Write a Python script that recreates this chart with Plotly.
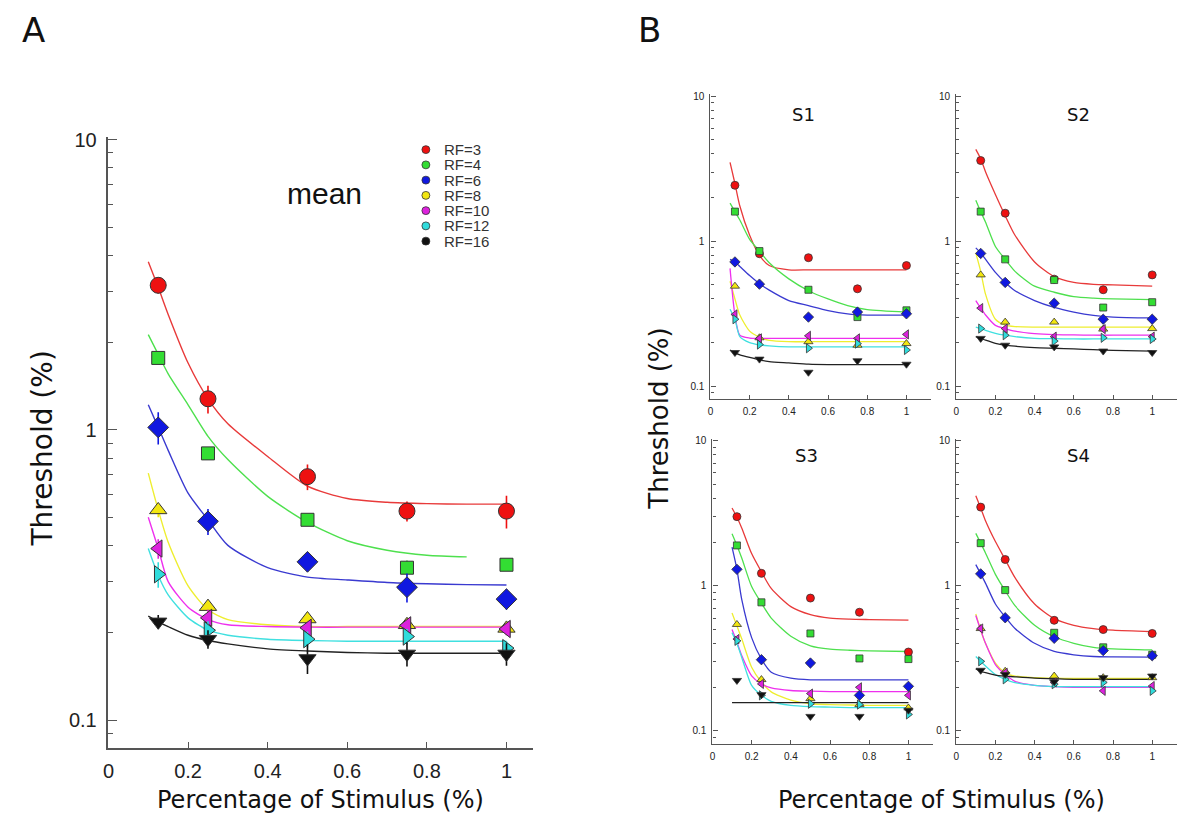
import plotly.graph_objects as go

W, H = 1193, 830

# ---------------- data ----------------
X_PTS = [0.125, 0.25, 0.5, 0.75, 1.0]
FIT_X_A = [0.1, 0.125, 0.15, 0.2, 0.25, 0.3, 0.4, 0.5, 0.6, 0.7, 0.8, 0.9, 1.0]
FIT_X_B = [0.1, 0.125, 0.15, 0.2, 0.25, 0.3, 0.4, 0.5, 0.6, 0.7, 0.8, 1.0]
RF_LABELS = ["RF=3", "RF=4", "RF=6", "RF=8", "RF=10", "RF=12", "RF=16"]

# Panel A (mean) thresholds
mean_rf3 = [3.15, 1.28, 0.69, 0.525, 0.525]
mean_rf4 = [1.77, 0.83, 0.49, 0.335, 0.343]
mean_rf6 = [1.02, 0.484, 0.351, 0.287, 0.261]
mean_rf8 = [0.53, 0.246, 0.223, 0.213, 0.207]
mean_rf10 = [0.39, 0.225, 0.208, 0.212, 0.206]
mean_rf12 = [0.318, 0.204, 0.19, 0.194, 0.177]
mean_rf16 = [0.218, 0.19, 0.163, 0.169, 0.169]

# Panel A error bars (+/-)
err_rf3 = [0.2, 0.14, 0.07, 0.042, 0.068]
err_rf4 = [0.05, 0.03, 0.02, 0.02, 0.015]
err_rf6 = [0.13, 0.05, 0.025, 0.033, 0.021]
err_rf8 = [0.03, 0.012, 0.01, 0.01, 0.01]
err_rf10 = [0.03, 0.015, 0.01, 0.01, 0.01]
err_rf12 = [0.032, 0.015, 0.012, 0.012, 0.01]
err_rf16 = [0.012, 0.014, 0.019, 0.016, 0.015]

# Panel A fitted curves (on FIT_X_A)
fit_rf3 = [3.8, 3.1, 2.5, 1.7, 1.28, 1.05, 0.81, 0.64, 0.58, 0.563, 0.557, 0.555, 0.555]
fit_rf4 = [2.13, 1.82, 1.56, 1.22, 0.95, 0.79, 0.59, 0.48, 0.415, 0.385, 0.37, 0.365, None]
fit_rf6 = [1.22, 1.02, 0.85, 0.605, 0.49, 0.40, 0.335, 0.311, 0.304, 0.298, 0.295, 0.293, 0.292]
fit_rf8 = [0.71, 0.53, 0.41, 0.29, 0.24, 0.222, 0.213, 0.21, 0.21, 0.21, 0.21, 0.21, 0.21]
fit_rf10 = [0.5, 0.39, 0.3, 0.245, 0.222, 0.213, 0.21, 0.209, 0.209, 0.209, 0.209, 0.209, 0.209]
fit_rf12 = [0.39, 0.315, 0.27, 0.225, 0.204, 0.196, 0.19, 0.188, 0.187, 0.187, 0.187, 0.187, 0.187]
fit_rf16 = [0.228, 0.218, 0.21, 0.196, 0.188, 0.183, 0.176, 0.173, 0.171, 0.17, 0.17, 0.17, 0.17]

# Panel B: per-subject points (rows = RF 3,4,6,8,10,12,16)
s1_points = [
    [2.43, 0.82, 0.77, 0.47, 0.68],
    [1.6, 0.855, 0.463, 0.30, 0.334],
    [0.72, 0.506, 0.30, 0.325, 0.316],
    [0.49, 0.216, 0.203, 0.192, 0.197],
    [0.313, 0.214, 0.223, 0.214, 0.228],
    [0.29, 0.194, 0.183, 0.197, 0.178],
    [0.171, 0.154, 0.125, 0.15, 0.142],
]
s2_points = [
    [3.6, 1.56, 0.548, 0.463, 0.586],
    [1.6, 0.75, 0.54, 0.349, 0.38],
    [0.824, 0.52, 0.374, 0.29, 0.29],
    [0.586, 0.277, 0.277, 0.248, 0.25],
    [0.346, 0.25, 0.22, 0.248, 0.22],
    [0.25, 0.225, 0.205, 0.216, 0.212],
    [0.214, 0.192, 0.187, 0.175, 0.171],
]
s3_points = [
    [3.0, 1.22, 0.824, 0.658, 0.35],
    [1.9, 0.77, 0.47, 0.316, 0.313],
    [1.3, 0.31, 0.294, 0.176, 0.203],
    [0.542, 0.226, 0.167, 0.152, 0.144],
    [0.43, 0.211, 0.181, 0.2, 0.176],
    [0.418, 0.176, 0.154, 0.152, 0.13],
    [0.223, 0.178, 0.126, 0.126, 0.139],
]
s4_points = [
    [3.49, 1.52, 0.579, 0.5, 0.47],
    [1.97, 0.935, 0.475, 0.377, 0.335],
    [1.21, 0.603, 0.435, 0.358, 0.33],
    [0.508, 0.258, 0.239, 0.233, 0.233],
    [0.508, 0.252, 0.216, 0.189, 0.204],
    [0.302, 0.227, 0.21, 0.216, 0.189],
    [0.262, 0.245, 0.218, 0.233, 0.239],
]

# Panel B: per-subject fitted curves (on FIT_X_B)
s1_fits = [
    [3.5, 2.5, 1.75, 1.1, 0.8, 0.68, 0.635, 0.635, 0.635, 0.635, 0.635, 0.635],
    [1.83, 1.6, 1.4, 1.03, 0.855, 0.71, 0.55, 0.456, 0.4, 0.36, 0.338, 0.325],
    [0.75, 0.72, 0.67, 0.58, 0.51, 0.46, 0.39, 0.36, 0.333, 0.316, 0.31, 0.31],
    [0.53, 0.4, 0.31, 0.24, 0.218, 0.207, 0.203, 0.203, 0.203, 0.203, 0.203, 0.203],
    [0.65, 0.31, 0.225, 0.215, 0.214, 0.214, 0.214, 0.214, 0.214, 0.214, 0.214, 0.214],
    [0.34, 0.29, 0.22, 0.2, 0.193, 0.19, 0.187, 0.187, 0.187, 0.187, 0.187, 0.187],
    [0.178, 0.17, 0.165, 0.158, 0.152, 0.148, 0.145, 0.142, 0.141, 0.141, 0.141, 0.141],
]
s2_fits = [
    [4.3, 3.7, 3.0, 2.1, 1.5, 1.1, 0.72, 0.57, 0.52, 0.505, 0.5, 0.49],
    [1.92, 1.6, 1.35, 0.92, 0.75, 0.62, 0.49, 0.445, 0.415, 0.405, 0.4, 0.396],
    [0.9, 0.83, 0.75, 0.61, 0.52, 0.456, 0.39, 0.35, 0.325, 0.308, 0.3, 0.296],
    [0.83, 0.62, 0.43, 0.29, 0.264, 0.258, 0.256, 0.256, 0.256, 0.256, 0.256, 0.256],
    [0.39, 0.346, 0.31, 0.263, 0.25, 0.24, 0.231, 0.227, 0.226, 0.225, 0.225, 0.225],
    [0.256, 0.25, 0.243, 0.232, 0.225, 0.22, 0.214, 0.213, 0.212, 0.212, 0.212, 0.212],
    [0.22, 0.214, 0.208, 0.198, 0.192, 0.189, 0.185, 0.183, 0.181, 0.179, 0.177, 0.175],
]
s3_fits = [
    [3.44, 2.97, 2.5, 1.67, 1.25, 0.96, 0.72, 0.634, 0.6, 0.59, 0.586, 0.58],
    [2.29, 1.9, 1.55, 0.99, 0.76, 0.6, 0.45, 0.386, 0.366, 0.36, 0.357, 0.353],
    [1.85, 1.3, 0.8, 0.44, 0.313, 0.254, 0.231, 0.225, 0.225, 0.225, 0.225, 0.225],
    [0.65, 0.53, 0.43, 0.275, 0.217, 0.186, 0.163, 0.154, 0.152, 0.151, 0.15, 0.15],
    [0.5, 0.41, 0.33, 0.24, 0.211, 0.198, 0.19, 0.188, 0.187, 0.187, 0.187, 0.187],
    [0.476, 0.4, 0.32, 0.206, 0.176, 0.16, 0.15, 0.147, 0.146, 0.145, 0.145, 0.145],
    [0.157, 0.157, 0.157, 0.157, 0.157, 0.157, 0.157, 0.157, 0.157, 0.157, 0.157, 0.157],
]
s4_fits = [
    [4.18, 3.44, 2.8, 2.02, 1.52, 1.14, 0.75, 0.594, 0.535, 0.508, 0.495, 0.483],
    [2.3, 1.97, 1.68, 1.2, 0.925, 0.73, 0.535, 0.446, 0.402, 0.377, 0.368, 0.362],
    [1.4, 1.21, 1.04, 0.75, 0.61, 0.508, 0.402, 0.353, 0.335, 0.326, 0.324, 0.323],
    [0.64, 0.495, 0.4, 0.294, 0.252, 0.239, 0.233, 0.231, 0.23, 0.23, 0.23, 0.23],
    [0.625, 0.495, 0.4, 0.287, 0.245, 0.22, 0.206, 0.202, 0.2, 0.2, 0.2, 0.2],
    [0.326, 0.302, 0.28, 0.245, 0.227, 0.215, 0.206, 0.202, 0.202, 0.202, 0.202, 0.202],
    [0.268, 0.258, 0.252, 0.243, 0.239, 0.236, 0.231, 0.229, 0.227, 0.227, 0.227, 0.227],
]
SUBJECTS = ["S1", "S2", "S3", "S4"]

# ---------------- styles ----------------
SYMBOLS = ["circle", "square", "diamond", "triangle-up", "triangle-left", "triangle-right", "triangle-down"]
MARKER_COLORS = ["#ee1111", "#33dd33", "#1018e0", "#f2e610", "#dd22dd", "#30dcdc", "#111111"]
LINE_COLORS = ["#e83a3a", "#4ee04e", "#3a3ad0", "#eeee30", "#ee30ee", "#40e0e0", "#222222"]
SIZES_A = [16, 13, 16, 15, 15, 15, 15]
SIZES_B = [8, 7, 8, 8, 8, 8, 8]


def fx(p):
    return p / W


def fy(p):
    return 1 - p / H


MINOR = [0.09, 0.2, 0.3, 0.4, 0.5, 0.6, 0.7, 0.8, 0.9, 2, 3, 4, 5, 6, 7, 8, 9]
XT = [0, 0.2, 0.4, 0.6, 0.8, 1]
XTT = ["0", "0.2", "0.4", "0.6", "0.8", "1"]


def yaxis(top_px, ten_px, tenth_px, bottom_px, anchor, fs, tl, ml, col, lw, stand):
    dec = (tenth_px - ten_px) / 2.0
    rng = [-1 - (bottom_px - tenth_px) / dec, 1 + (ten_px - top_px) / dec]
    return dict(type="log", domain=[fy(bottom_px), fy(top_px)], range=rng, anchor=anchor,
                showline=True, linecolor=col, linewidth=lw, ticks="inside", ticklen=tl,
                tickcolor=col, tickwidth=1, tickvals=[0.1, 1, 10], ticktext=["0.1", "1", "10"],
                tickfont=dict(family="Liberation Sans, Arial", size=fs, color="#222"),
                showgrid=False, zeroline=False, ticklabelstandoff=stand,
                minor=dict(ticks="inside", ticklen=ml, tickcolor=col, tickvals=MINOR, showgrid=False))


def xaxis(left_px, right_px, zero_px, one_px, anchor, fs, tl, col, lw, stand):
    unit = one_px - zero_px
    rng = [-(zero_px - left_px) / unit, (right_px - zero_px) / unit]
    return dict(domain=[fx(left_px), fx(right_px)], range=rng, anchor=anchor,
                showline=True, linecolor=col, linewidth=lw, ticks="inside", ticklen=tl,
                tickcolor=col, tickwidth=1, tickvals=XT, ticktext=XTT,
                tickfont=dict(family="Liberation Sans, Arial", size=fs, color="#222"),
                showgrid=False, zeroline=False, ticklabelstandoff=stand)


fig = go.Figure()

# Panel A
mean_sets = [mean_rf3, mean_rf4, mean_rf6, mean_rf8, mean_rf10, mean_rf12, mean_rf16]
err_sets = [err_rf3, err_rf4, err_rf6, err_rf8, err_rf10, err_rf12, err_rf16]
fit_sets = [fit_rf3, fit_rf4, fit_rf6, fit_rf8, fit_rf10, fit_rf12, fit_rf16]

for i in range(7):
    fig.add_trace(go.Scatter(x=FIT_X_A, y=fit_sets[i], mode="lines", xaxis="x", yaxis="y",
                             line=dict(color=LINE_COLORS[i], width=1.4, shape="spline", smoothing=0.7),
                             showlegend=False, hoverinfo="skip"))
for i in range(7):
    fig.add_trace(go.Scatter(x=X_PTS, y=mean_sets[i], mode="markers", xaxis="x", yaxis="y",
                             name=RF_LABELS[i], showlegend=False,
                             error_y=dict(type="data", array=err_sets[i], color=MARKER_COLORS[i],
                                          thickness=1.6, width=0),
                             marker=dict(symbol=SYMBOLS[i], size=SIZES_A[i], color=MARKER_COLORS[i],
                                         line=dict(color="#333", width=1))))

# Panel B
sub_points = [s1_points, s2_points, s3_points, s4_points]
sub_fits = [s1_fits, s2_fits, s3_fits, s4_fits]
for k in range(4):
    xa = "x%d" % (k + 2)
    ya = "y%d" % (k + 2)
    for i in range(7):
        fig.add_trace(go.Scatter(x=FIT_X_B, y=sub_fits[k][i], mode="lines", xaxis=xa, yaxis=ya,
                                 line=dict(color=LINE_COLORS[i], width=1.3, shape="spline", smoothing=0.7),
                                 showlegend=False, hoverinfo="skip"))
    for i in range(7):
        fig.add_trace(go.Scatter(x=X_PTS, y=sub_points[k][i], mode="markers", xaxis=xa, yaxis=ya,
                                 name=RF_LABELS[i], showlegend=False,
                                 marker=dict(symbol=SYMBOLS[i], size=SIZES_B[i], color=MARKER_COLORS[i],
                                             line=dict(color="#333", width=0.8))))

AX = "#555"
layout = dict(
    width=W, height=H, margin=dict(l=0, r=0, t=0, b=0),
    paper_bgcolor="white", plot_bgcolor="white", showlegend=False,
    xaxis=xaxis(103, 530, 103, 503, "y", 20, 6, AX, 1.5, 4),
    yaxis=yaxis(130, 133, 719, 747, "x", 20, 9, 5, AX, 1.5, 6),
    xaxis2=xaxis(708, 930, 708, 905, "y2", 10, 4, AX, 1.2, 3),
    yaxis2=yaxis(87, 89, 382, 395, "x2", 10, 5, 3, AX, 1.2, 3),
    xaxis3=xaxis(955, 1177, 955, 1152, "y3", 10, 4, AX, 1.2, 3),
    yaxis3=yaxis(87, 89, 382, 395, "x3", 10, 5, 3, AX, 1.2, 3),
    xaxis4=xaxis(710, 932, 710, 907, "y4", 10, 4, AX, 1.2, 3),
    yaxis4=yaxis(435, 437, 730, 743, "x4", 10, 5, 3, AX, 1.2, 3),
    xaxis5=xaxis(955, 1177, 955, 1152, "y5", 10, 4, AX, 1.2, 3),
    yaxis5=yaxis(435, 437, 730, 743, "x5", 10, 5, 3, AX, 1.2, 3),
)

TXT = "#111"
ann = []


def add_text(text, x, y, size, family="DejaVu Sans", angle=0, xanchor="center", color=TXT, pad=1):
    ann.append(dict(text=text, x=fx(x), y=fy(y), xref="paper", yref="paper", showarrow=False,
                    xanchor=xanchor, yanchor="middle", textangle=angle, borderpad=pad,
                    font=dict(family=family, size=size, color=color)))


add_text("A", 28, 22, 34)
add_text("B", 647, 22, 34)
add_text("mean", 320, 187, 30, family="Liberation Sans, Arial")
add_text("Threshold (%)", 37, 445, 28, angle=-90)
add_text("Percentage of Stimulus (%)", 316, 800, 24)
add_text("Threshold (%)", 656, 415, 26, angle=-90)
add_text("Percentage of Stimulus (%)", 940, 800, 24)
sub_title_pos = [(802, 108), (1078, 108), (805, 452), (1078, 452)]
for k in range(4):
    add_text(SUBJECTS[k], sub_title_pos[k][0], sub_title_pos[k][1], 18)

# Legend (panel A)
shapes = []
for i in range(7):
    yy = 143 + 15.4 * i
    r = 4
    shapes.append(dict(type="circle", xref="paper", yref="paper",
                       x0=fx(422 - r), x1=fx(422 + r), y0=fy(yy + r), y1=fy(yy - r),
                       fillcolor=MARKER_COLORS[i], line=dict(color="#333", width=0.8)))
    add_text(RF_LABELS[i], 439, yy, 15, family="Liberation Sans, Arial", xanchor="left",
             color="#333", pad=0)

layout["annotations"] = ann
layout["shapes"] = shapes
fig.update_layout(**layout)
fig.write_html("out.html")
